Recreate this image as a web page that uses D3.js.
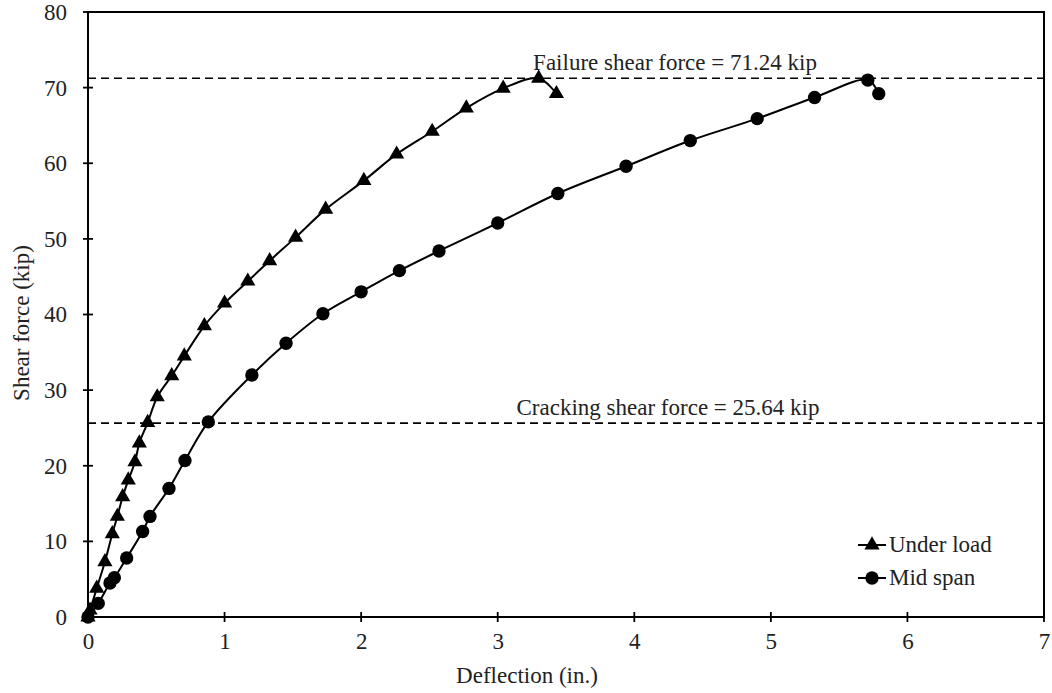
<!DOCTYPE html>
<html>
<head>
<meta charset="utf-8">
<script src="https://cdn.jsdelivr.net/npm/d3@7"></script>
<style>
  html, body { margin: 0; padding: 0; background: #fff; }
  svg { display: block; }
  text { font-family: "Liberation Serif", "Times New Roman", serif; fill: #222; }
</style>
</head>
<body>
<svg id="chart" width="1052" height="693"></svg>
<script>
// Deflection (in.) and shear force (kip) readings
const underLoadX = [0, 0.015, 0.064, 0.124, 0.178, 0.215, 0.254, 0.295, 0.344, 0.376, 0.437, 0.507, 0.613, 0.705, 0.852, 1.0, 1.17, 1.33, 1.52, 1.74, 2.02, 2.26, 2.52, 2.77, 3.04, 3.30, 3.43];
const underLoadY = [0, 0.9, 3.8, 7.3, 11.0, 13.3, 15.9, 18.1, 20.5, 23.0, 25.7, 29.1, 31.9, 34.5, 38.5, 41.5, 44.4, 47.1, 50.2, 53.9, 57.7, 61.2, 64.2, 67.3, 69.9, 71.24, 69.2];

const midSpanX = [0, 0.075, 0.161, 0.193, 0.283, 0.40, 0.454, 0.593, 0.71, 0.881, 1.20, 1.45, 1.72, 2.0, 2.28, 2.57, 3.0, 3.44, 3.94, 4.41, 4.90, 5.32, 5.71, 5.79];
const midSpanY = [0, 1.8, 4.5, 5.2, 7.8, 11.3, 13.3, 17.0, 20.7, 25.8, 32.0, 36.2, 40.1, 43.0, 45.8, 48.4, 52.1, 56.0, 59.6, 63.0, 65.9, 68.7, 71.0, 69.2];

const seriesNames = ["Under load", "Mid span"];
const xTicks = [0, 1, 2, 3, 4, 5, 6, 7];
const yTicks = [0, 10, 20, 30, 40, 50, 60, 70, 80];

const failureForce = 71.24;
const crackingForce = 25.64;
const failureLabel = "Failure shear force = 71.24 kip";
const crackingLabel = "Cracking shear force = 25.64 kip";
const xTitle = "Deflection (in.)";
const yTitle = "Shear force (kip)";

const svg = d3.select("#chart");
const plot = { left: 88, right: 1044, top: 12, bottom: 617 };
const fontSize = 23;

const x = d3.scaleLinear().domain([0, 7]).range([plot.left, plot.right]);
const y = d3.scaleLinear().domain([0, 80]).range([plot.bottom, plot.top]);

const ink = "#000";

// Reference lines with their captions
const refs = [
  { v: failureForce, label: failureLabel, cx: 675, dy: -8 },
  { v: crackingForce, label: crackingLabel, cx: 668, dy: -8 }
];
refs.forEach(r => {
  svg.append("line")
    .attr("x1", x(0)).attr("x2", x(7))
    .attr("y1", y(r.v)).attr("y2", y(r.v))
    .attr("stroke", ink).attr("stroke-width", 1.6)
    .attr("stroke-dasharray", "8,5");
  svg.append("text")
    .attr("x", r.cx).attr("y", y(r.v) + r.dy)
    .attr("text-anchor", "middle")
    .attr("font-size", fontSize)
    .text(r.label);
});

// Axis labels via d3 axes; tick marks are drawn separately so they cross the axis lines
const xAxis = svg.append("g")
  .attr("transform", `translate(0,${plot.bottom})`)
  .call(d3.axisBottom(x).tickValues(xTicks).tickSize(0).tickPadding(16).tickFormat(d3.format("d")));
xAxis.select(".domain").remove();
xAxis.selectAll("text").attr("font-size", fontSize).attr("font-family", "Liberation Serif").attr("fill", "#222");

const yAxis = svg.append("g")
  .attr("transform", `translate(${plot.left},0)`)
  .call(d3.axisLeft(y).tickValues(yTicks).tickSize(0).tickPadding(21).tickFormat(d3.format("d")));
yAxis.select(".domain").remove();
yAxis.selectAll("text").attr("font-size", fontSize).attr("font-family", "Liberation Serif").attr("fill", "#222");

// Frame
svg.append("rect")
  .attr("x", plot.left).attr("y", plot.top)
  .attr("width", plot.right - plot.left).attr("height", plot.bottom - plot.top)
  .attr("fill", "none").attr("stroke", ink).attr("stroke-width", 2);

svg.append("g").selectAll("line").data(xTicks).join("line")
  .attr("x1", d => x(d)).attr("x2", d => x(d))
  .attr("y1", plot.bottom - 5).attr("y2", plot.bottom + 5)
  .attr("stroke", ink).attr("stroke-width", 1.8);
svg.append("g").selectAll("line").data(yTicks).join("line")
  .attr("x1", plot.left - 5).attr("x2", plot.left + 5)
  .attr("y1", d => y(d)).attr("y2", d => y(d))
  .attr("stroke", ink).attr("stroke-width", 1.8);

// Axis titles
svg.append("text")
  .attr("x", 527).attr("y", 683)
  .attr("text-anchor", "middle").attr("font-size", fontSize)
  .text(xTitle);
svg.append("text")
  .attr("transform", `translate(29,323) rotate(-90)`)
  .attr("text-anchor", "middle").attr("font-size", fontSize)
  .text(yTitle);

// Series
const series = [
  { name: seriesNames[0], xs: underLoadX, ys: underLoadY, symbol: d3.symbolTriangle, size: 100 },
  { name: seriesNames[1], xs: midSpanX, ys: midSpanY, symbol: d3.symbolCircle, size: 140 }
];

const lineGen = d3.line()
  .x(d => x(d[0])).y(d => y(d[1]))
  .curve(d3.curveCatmullRom.alpha(0.5));

series.forEach(s => {
  const pts = s.xs.map((v, i) => [v, s.ys[i]]);
  svg.append("path")
    .datum(pts)
    .attr("d", lineGen)
    .attr("fill", "none").attr("stroke", ink).attr("stroke-width", 2);
  const sym = d3.symbol().type(s.symbol).size(s.size);
  svg.append("g").selectAll("path").data(pts).join("path")
    .attr("transform", d => `translate(${x(d[0])},${y(d[1])})`)
    .attr("d", sym)
    .attr("fill", ink);
});

// Legend
const legend = svg.append("g");
series.forEach((s, i) => {
  const ly = 545 + i * 33;
  legend.append("line")
    .attr("x1", 858).attr("x2", 886)
    .attr("y1", ly).attr("y2", ly)
    .attr("stroke", ink).attr("stroke-width", 2);
  legend.append("path")
    .attr("transform", `translate(872,${ly})`)
    .attr("d", d3.symbol().type(s.symbol).size(s.size))
    .attr("fill", ink);
  legend.append("text")
    .attr("x", 889).attr("y", ly + 7)
    .attr("font-size", fontSize)
    .text(s.name);
});
</script>
</body>
</html>
